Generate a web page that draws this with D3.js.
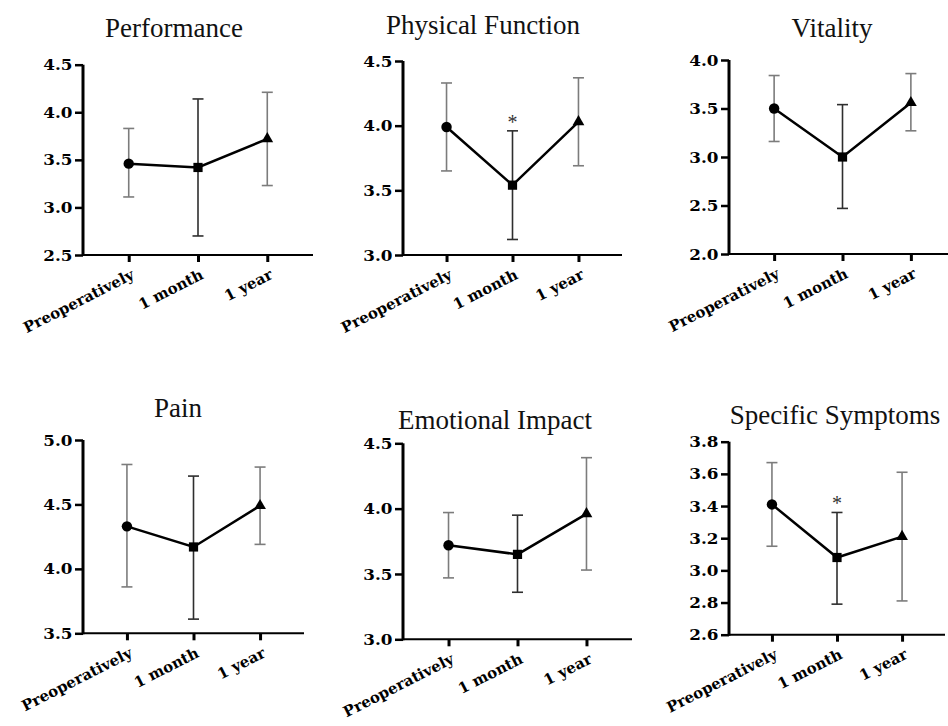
<!DOCTYPE html>
<html>
<head>
<meta charset="utf-8">
<script src="https://cdn.jsdelivr.net/npm/d3@7"></script>
<style>
  html, body { margin: 0; padding: 0; background: #fff; }
  svg { display: block; }
</style>
</head>
<body>
<svg id="chart" width="948" height="726"></svg>
<script>
// Questionnaire domain scores at three time points (mean with error range)
const timepoints = ["Preoperatively", "1 month", "1 year"];
const titles = ["Performance", "Physical Function", "Vitality", "Pain", "Emotional Impact", "Specific Symptoms"];

const means = [
  [3.46, 3.42, 3.72],
  [3.99, 3.54, 4.03],
  [3.50, 3.00, 3.56],
  [4.33, 4.17, 4.49],
  [3.72, 3.65, 3.96],
  [3.41, 3.08, 3.21]
];
const lowerBounds = [
  [3.11, 2.70, 3.23],
  [3.65, 3.12, 3.69],
  [3.16, 2.47, 3.27],
  [3.86, 3.61, 4.19],
  [3.47, 3.36, 3.53],
  [3.15, 2.79, 2.81]
];
const upperBounds = [
  [3.83, 4.14, 4.21],
  [4.33, 3.96, 4.37],
  [3.84, 3.54, 3.86],
  [4.81, 4.72, 4.79],
  [3.97, 3.95, 4.39],
  [3.67, 3.36, 3.61]
];
const yDomains = [[2.5, 4.5], [3.0, 4.5], [2.0, 4.0], [3.5, 5.0], [3.0, 4.5], [2.6, 3.8]];
const yTickValues = [
  [2.5, 3.0, 3.5, 4.0, 4.5],
  [3.0, 3.5, 4.0, 4.5],
  [2.0, 2.5, 3.0, 3.5, 4.0],
  [3.5, 4.0, 4.5, 5.0],
  [3.0, 3.5, 4.0, 4.5],
  [2.6, 2.8, 3.0, 3.2, 3.4, 3.6, 3.8]
];
// index of the time point flagged as significant (null = none)
const significant = [null, 1, null, null, null, 1];

// Panel frames: y-axis x, x-axis end, top tick y, x-axis y, title centre and baseline
const frames = [
  { left: 83,  right: 313, top: 64.7,  bottom: 255,   tx: 174, ty: 37 },
  { left: 403, right: 622, top: 61,    bottom: 255,   tx: 483, ty: 34 },
  { left: 729, right: 956, top: 60,    bottom: 254,   tx: 832, ty: 37 },
  { left: 83,  right: 304, top: 440,   bottom: 633.3, tx: 178, ty: 417 },
  { left: 403, right: 632, top: 443.3, bottom: 639.3, tx: 495, ty: 429 },
  { left: 729, right: 945, top: 441.7, bottom: 634.7, tx: 835, ty: 424 }
];

const svg = d3.select("#chart");
const tickFont = "'DejaVu Serif', serif";
const titleFont = "'Liberation Serif', 'Times New Roman', serif";
const symbols = [d3.symbolCircle, d3.symbolSquare, d3.symbolTriangle];
const symbolSizes = [85, 85, 60];
const barColors = ["#7c7c7c", "#2e2e2e", "#7c7c7c"];

titles.forEach((title, p) => {
  const f = frames[p];
  const g = svg.append("g");

  const x = d3.scalePoint().domain(timepoints).range([f.left, f.right]).padding(0.66);
  const y = d3.scaleLinear().domain(yDomains[p]).range([f.bottom, f.top]);

  // title
  g.append("text")
    .attr("x", f.tx).attr("y", f.ty)
    .attr("text-anchor", "middle")
    .style("font-family", titleFont)
    .style("font-size", "27px")
    .style("fill", "#111")
    .text(title);

  // y axis
  const yAxis = g.append("g")
    .attr("transform", `translate(${f.left},0)`)
    .call(d3.axisLeft(y).tickValues(yTickValues[p]).tickFormat(d3.format(".1f")).tickSize(8).tickSizeOuter(0));
  yAxis.select(".domain").attr("stroke", "#000").attr("stroke-width", 3)
    .attr("d", `M0,${f.top}V${f.bottom + 1}`);
  yAxis.selectAll(".tick line").attr("stroke", "#000").attr("stroke-width", 2.5);
  yAxis.selectAll(".tick text")
    .attr("x", -8.8).attr("dy", "0.36em")
    .attr("transform", "scale(1.2,1)")
    .style("font-family", tickFont)
    .style("font-weight", "bold")
    .style("font-size", "14px")
    .style("fill", "#000");

  // x axis
  const xAxis = g.append("g")
    .attr("transform", `translate(0,${f.bottom})`)
    .call(d3.axisBottom(x).tickSize(7).tickSizeOuter(0));
  xAxis.select(".domain").attr("stroke", "#000").attr("stroke-width", 2)
    .attr("d", `M${f.left},0H${f.right}`);
  xAxis.selectAll(".tick line").attr("stroke", "#000").attr("stroke-width", 3);
  xAxis.selectAll(".tick text")
    .attr("x", 0).attr("y", 0).attr("dy", 0)
    .attr("text-anchor", "end")
    .attr("transform", "translate(6,23) rotate(-27)")
    .style("font-family", tickFont)
    .style("font-weight", "bold")
    .style("font-size", "15px")
    .style("fill", "#000");

  const rows = timepoints.map((t, i) => ({ t, i, m: means[p][i], lo: lowerBounds[p][i], hi: upperBounds[p][i] }));

  // error bars
  const bars = g.append("g").selectAll("g").data(rows).join("g")
    .attr("stroke", d => barColors[d.i]).attr("stroke-width", 1.6).attr("fill", "none");
  bars.append("line")
    .attr("x1", d => x(d.t)).attr("x2", d => x(d.t))
    .attr("y1", d => y(d.lo)).attr("y2", d => y(d.hi));
  bars.append("line")
    .attr("x1", d => x(d.t) - 5.5).attr("x2", d => x(d.t) + 5.5)
    .attr("y1", d => y(d.hi)).attr("y2", d => y(d.hi));
  bars.append("line")
    .attr("x1", d => x(d.t) - 5.5).attr("x2", d => x(d.t) + 5.5)
    .attr("y1", d => y(d.lo)).attr("y2", d => y(d.lo));

  // mean line
  g.append("path")
    .datum(rows)
    .attr("fill", "none").attr("stroke", "#000").attr("stroke-width", 2.5)
    .attr("d", d3.line().x(d => x(d.t)).y(d => y(d.m)));

  // markers
  g.append("g").selectAll("path").data(rows).join("path")
    .attr("transform", d => `translate(${x(d.t)},${y(d.m)})`)
    .attr("d", d => d3.symbol(symbols[d.i], symbolSizes[d.i])())
    .attr("fill", "#000");

  // significance mark
  if (significant[p] !== null) {
    const d = rows[significant[p]];
    g.append("text")
      .attr("x", x(d.t)).attr("y", y(d.hi) - 2)
      .attr("text-anchor", "middle")
      .style("font-family", titleFont)
      .style("font-size", "20px")
      .style("fill", "#333")
      .text("*");
  }
});
</script>
</body>
</html>
